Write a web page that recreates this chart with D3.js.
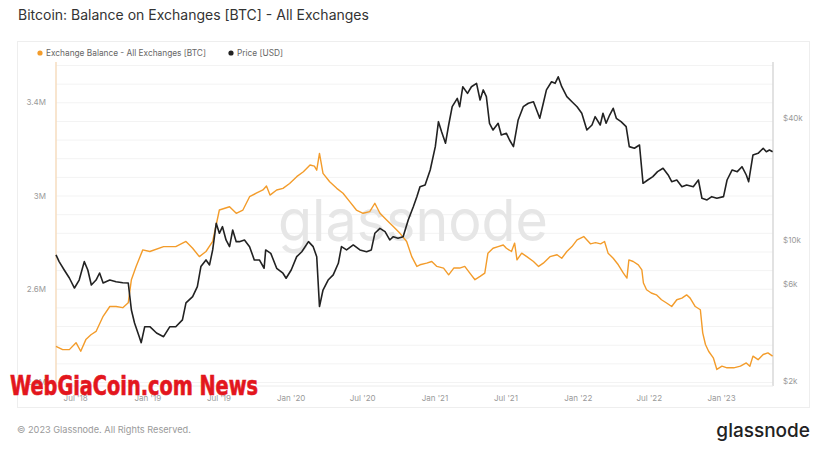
<!DOCTYPE html>
<html>
<head>
<meta charset="utf-8">
<script src="https://cdn.jsdelivr.net/npm/d3@7"></script>
<style>
  body { margin: 0; background: #fff; }
  svg { display: block; font-family: Inter, "Noto Sans", sans-serif; }
</style>
</head>
<body>
<script>
// Exchange balance, in millions of BTC
const balanceDates = ["2018-05-12","2018-05-29","2018-06-15","2018-07-02","2018-07-14","2018-07-27","2018-08-09","2018-08-22","2018-09-09","2018-09-26",
  "2018-10-12","2018-10-29","2018-11-12","2018-11-20","2018-12-02","2018-12-19","2019-01-06","2019-02-10","2019-03-13","2019-04-08",
  "2019-04-25","2019-05-12","2019-05-29","2019-06-15","2019-07-02","2019-07-28","2019-08-14","2019-08-31","2019-09-17","2019-10-04",
  "2019-10-21","2019-10-30","2019-11-08","2019-11-25","2019-12-11","2019-12-28","2020-01-15","2020-02-01","2020-02-18","2020-02-29",
  "2020-03-06","2020-03-13","2020-03-22","2020-04-08","2020-04-26","2020-05-12","2020-05-29","2020-06-15","2020-07-02","2020-07-19",
  "2020-08-01","2020-08-14","2020-08-31","2020-09-17","2020-10-04","2020-10-21","2020-11-03","2020-11-16","2020-11-24","2020-12-11",
  "2020-12-24","2021-01-06","2021-01-23","2021-02-05","2021-02-18","2021-03-05","2021-03-18","2021-03-31","2021-04-13","2021-04-26",
  "2021-05-08","2021-05-16","2021-05-29","2021-06-11","2021-06-24","2021-07-02","2021-07-15","2021-07-23","2021-07-29","2021-08-10",
  "2021-08-23","2021-09-09","2021-09-22","2021-10-04","2021-10-21","2021-11-08","2021-11-20","2021-12-03","2021-12-16","2021-12-29",
  "2022-01-15","2022-02-01","2022-02-14","2022-02-27","2022-03-09","2022-03-18","2022-03-31","2022-04-13","2022-04-26","2022-05-05",
  "2022-05-10","2022-05-21","2022-06-03","2022-06-12","2022-06-16","2022-06-24","2022-07-06","2022-07-19","2022-08-01","2022-08-14",
  "2022-08-27","2022-09-09","2022-09-22","2022-10-04","2022-10-13","2022-10-26","2022-11-08","2022-11-14","2022-11-21","2022-11-29",
  "2022-12-11","2022-12-20","2023-01-02","2023-01-15","2023-02-01","2023-02-18","2023-03-05","2023-03-14","2023-03-22","2023-04-04",
  "2023-04-17","2023-04-29","2023-05-11"]
const balanceValues = [2.355,2.341,2.341,2.371,2.334,2.384,2.405,2.419,2.484,2.526,
  2.526,2.521,2.542,2.641,2.698,2.769,2.762,2.783,2.783,2.805,
  2.776,2.740,2.762,2.805,2.940,2.954,2.926,2.940,2.997,3.012,
  3.026,3.043,3.004,3.026,3.033,3.054,3.083,3.104,3.133,3.128,
  3.111,3.183,3.097,3.061,3.033,3.012,2.976,2.940,2.926,2.933,
  2.969,2.926,2.897,2.869,2.840,2.805,2.740,2.698,2.705,2.712,
  2.719,2.698,2.691,2.662,2.691,2.691,2.698,2.669,2.641,2.655,
  2.669,2.755,2.776,2.783,2.790,2.776,2.762,2.798,2.726,2.755,
  2.740,2.719,2.698,2.712,2.740,2.748,2.733,2.762,2.783,2.812,
  2.826,2.795,2.800,2.795,2.805,2.755,2.733,2.705,2.669,2.648,
  2.726,2.719,2.705,2.683,2.627,2.598,2.584,2.576,2.555,2.541,
  2.526,2.555,2.562,2.576,2.562,2.526,2.512,2.413,2.363,2.334,
  2.306,2.256,2.270,2.263,2.263,2.270,2.284,2.270,2.313,2.298,
  2.320,2.327,2.313]

// BTC price in USD
const priceDates = ["2018-05-12","2018-05-20","2018-06-02","2018-06-15","2018-06-28","2018-07-10","2018-07-23","2018-08-01","2018-08-10","2018-08-22",
  "2018-08-31","2018-09-09","2018-09-26","2018-10-12","2018-10-29","2018-11-12","2018-11-20","2018-11-28","2018-12-10","2018-12-15",
  "2018-12-24","2019-01-06","2019-01-23","2019-02-10","2019-02-26","2019-03-13","2019-03-30","2019-04-08","2019-04-25","2019-05-07",
  "2019-05-16","2019-05-29","2019-06-07","2019-06-15","2019-06-24","2019-07-02","2019-07-10","2019-07-19","2019-07-28","2019-08-05",
  "2019-08-14","2019-08-22","2019-09-04","2019-09-17","2019-09-29","2019-10-12","2019-10-24","2019-10-28","2019-11-10","2019-11-25",
  "2019-12-11","2019-12-19","2020-01-01","2020-01-15","2020-01-28","2020-02-14","2020-02-26","2020-03-06","2020-03-13","2020-03-22",
  "2020-04-04","2020-04-17","2020-04-30","2020-05-08","2020-05-21","2020-06-07","2020-06-24","2020-07-11","2020-07-23","2020-08-01",
  "2020-08-14","2020-08-27","2020-09-08","2020-09-17","2020-09-29","2020-10-12","2020-10-25","2020-11-07","2020-11-16","2020-11-24",
  "2020-12-07","2020-12-20","2021-01-02","2021-01-10","2021-01-18","2021-01-28","2021-02-05","2021-02-14","2021-02-27","2021-03-05",
  "2021-03-13","2021-03-25","2021-04-04","2021-04-17","2021-04-26","2021-05-04","2021-05-12","2021-05-20","2021-05-29","2021-06-11",
  "2021-06-19","2021-07-02","2021-07-10","2021-07-20","2021-08-01","2021-08-14","2021-08-27","2021-09-09","2021-09-17","2021-09-25",
  "2021-10-04","2021-10-12","2021-10-25","2021-11-03","2021-11-11","2021-11-20","2021-12-03","2021-12-16","2021-12-29","2022-01-10",
  "2022-01-23","2022-02-05","2022-02-13","2022-02-26","2022-03-05","2022-03-13","2022-03-22","2022-03-31","2022-04-08","2022-04-20",
  "2022-05-03","2022-05-11","2022-05-24","2022-06-06","2022-06-15","2022-06-27","2022-07-10","2022-07-22","2022-08-05","2022-08-18",
  "2022-08-27","2022-09-09","2022-09-22","2022-10-04","2022-10-21","2022-11-03","2022-11-12","2022-11-25","2022-12-07","2022-12-20",
  "2023-01-06","2023-01-15","2023-01-28","2023-02-10","2023-02-22","2023-03-05","2023-03-11","2023-03-22","2023-04-04","2023-04-17",
  "2023-04-25","2023-05-03","2023-05-11"]
const priceValues = [8440,7820,7110,6490,5790,6340,7820,7110,5990,6340,
  6870,6130,6340,6220,6150,6130,4510,3890,3330,3110,
  3730,3730,3470,3330,3730,3730,4030,4890,5250,5880,
  7390,7970,7530,8930,12090,10790,11630,10000,9270,11200,
  9810,9810,10000,9270,7970,7970,7250,8930,8590,7250,
  6850,6470,7110,8270,8750,9810,9270,8270,4690,5660,
  6340,6720,7670,9270,8930,9450,8930,8750,8930,10790,
  11420,11000,10000,10380,10190,10380,12550,14590,16370,18340,
  18700,22170,28910,38400,34280,30060,36980,45530,50070,45530,
  57140,52990,57140,59380,49130,55110,51030,37700,34920,37700,
  33020,33650,31180,28910,39150,45530,47340,48170,43850,39910,
  47340,55110,60490,59380,63970,57140,51030,48170,45530,42260,
  34920,36980,40640,36980,42260,37700,41420,44700,39910,38400,
  36280,28910,28380,29450,19050,19780,20550,21750,22600,20940,
  19410,19780,18340,18700,18340,19780,16070,15770,16370,16070,
  16370,19780,22170,21750,23010,20940,19410,26300,26790,28380,
  27300,27800,27300]

const balanceTicks = [2.2, 2.6, 3, 3.4]
const priceTicks = [2000, 6000, 10000, 40000]

const width = 828
const height = 465
const plot = { left: 56, right: 773, top: 62, bottom: 386 }
const orange = "#f39c2b"

const parse = d3.utcParse("%Y-%m-%d")
const balance = balanceDates.map((d, i) => ({ date: parse(d), value: balanceValues[i] }))
const price = priceDates.map((d, i) => ({ date: parse(d), value: priceValues[i] }))

const svg = d3.select("body").append("svg")
  .attr("width", width)
  .attr("height", height)

// title + card
svg.append("text")
  .attr("x", 18).attr("y", 20)
  .attr("font-size", 14).attr("fill", "#333")
  .text("Bitcoin: Balance on Exchanges [BTC] - All Exchanges")

svg.append("rect")
  .attr("x", 17.5).attr("y", 41.5)
  .attr("width", 792).attr("height", 366)
  .attr("fill", "#fff").attr("stroke", "#eeeeee")

// scales
const x = d3.scaleUtc()
  .domain([parse("2018-05-12"), parse("2023-05-12")])
  .range([plot.left, plot.right])
const yBal = d3.scaleLinear()
  .domain([2.185, 3.575])
  .range([plot.bottom, plot.top])
const yPrice = d3.scaleLog()
  .domain([1900, 75700])
  .range([plot.bottom, plot.top])

// faint gridlines
svg.append("g")
  .selectAll("line")
  .data(d3.range(2.2, 3.57, 0.08))
  .join("line")
  .attr("x1", plot.left).attr("x2", plot.right)
  .attr("y1", (d) => yBal(d)).attr("y2", (d) => yBal(d))
  .attr("stroke", "#f3f3f3")

// big watermark in the middle
svg.append("text")
  .attr("x", 278).attr("y", 241)
  .attr("font-size", 58).attr("fill", "#e6e6e6")
  .attr("textLength", 270).attr("lengthAdjust", "spacingAndGlyphs")
  .text("glassnode")

// axis lines
svg.append("line")
  .attr("x1", plot.left).attr("x2", plot.left)
  .attr("y1", plot.top).attr("y2", plot.bottom)
  .attr("stroke", "#f6dcbf").attr("stroke-width", 1.5)
svg.append("line")
  .attr("x1", plot.right).attr("x2", plot.right)
  .attr("y1", plot.top).attr("y2", plot.bottom)
  .attr("stroke", "#d9d9d9").attr("stroke-width", 1.5)
svg.append("line")
  .attr("x1", plot.left).attr("x2", plot.right)
  .attr("y1", plot.bottom).attr("y2", plot.bottom)
  .attr("stroke", "#ececec")

// tick labels
const tickStyle = (sel) => sel.attr("font-size", 8).attr("fill", "#9a9a9a")

svg.append("g")
  .selectAll("text")
  .data(balanceTicks)
  .join("text")
  .attr("x", 46).attr("y", (d) => yBal(d))
  .attr("dy", "0.32em").attr("text-anchor", "end")
  .call(tickStyle)
  .text((d) => d + "M")

svg.append("g")
  .selectAll("text")
  .data(priceTicks)
  .join("text")
  .attr("x", 783).attr("y", (d) => yPrice(d))
  .attr("dy", "0.32em")
  .call(tickStyle)
  .text((d) => "$" + d / 1000 + "k")

const fmt = d3.utcFormat("%b '%y")
svg.append("g")
  .selectAll("text")
  .data(x.ticks(d3.utcMonth.every(6)))
  .join("text")
  .attr("x", (d) => x(d)).attr("y", 401)
  .attr("text-anchor", "middle")
  .call(tickStyle)
  .text((d) => fmt(d))

// lines
svg.append("path")
  .datum(balance)
  .attr("fill", "none")
  .attr("stroke", orange)
  .attr("stroke-width", 1.4)
  .attr("stroke-linejoin", "round")
  .attr("d", d3.line().x((d) => x(d.date)).y((d) => yBal(d.value)))

svg.append("path")
  .datum(price)
  .attr("fill", "none")
  .attr("stroke", "#222")
  .attr("stroke-width", 1.6)
  .attr("stroke-linejoin", "round")
  .attr("d", d3.line().x((d) => x(d.date)).y((d) => yPrice(d.value)))

// legend
const legend = svg.append("g").attr("font-size", 8.3).attr("fill", "#666")
legend.append("circle").attr("cx", 40).attr("cy", 53).attr("r", 2.6).attr("fill", orange)
legend.append("text").attr("x", 46).attr("y", 56).text("Exchange Balance - All Exchanges [BTC]")
legend.append("circle").attr("cx", 231).attr("cy", 53).attr("r", 2.6).attr("fill", "#222")
legend.append("text").attr("x", 237).attr("y", 56).text("Price [USD]")

// footer
svg.append("text")
  .attr("x", 17).attr("y", 433)
  .attr("font-size", 9.2).attr("fill", "#9a9a9a")
  .text("© 2023 Glassnode. All Rights Reserved.")

svg.append("text")
  .attr("x", 810).attr("y", 437)
  .attr("text-anchor", "end")
  .attr("font-size", 19).attr("font-weight", 500).attr("fill", "#222")
  .text("glassnode")

// news site stamp over the chart
svg.append("text")
  .attr("x", 10).attr("y", 395)
  .attr("font-family", "'Liberation Sans Narrow', 'DejaVu Sans Condensed', sans-serif")
  .attr("font-size", 26).attr("font-weight", 700).attr("fill", "#e3161d")
  .attr("stroke", "#e3161d").attr("stroke-width", 0.6)
  .attr("textLength", 248).attr("lengthAdjust", "spacingAndGlyphs")
  .text("WebGiaCoin.com News")
</script>
</body>
</html>
